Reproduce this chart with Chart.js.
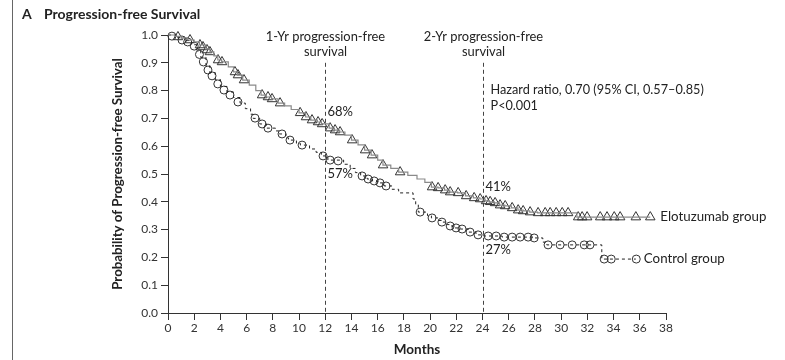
<!DOCTYPE html>
<html>
<head>
<meta charset="utf-8">
<script src="https://cdn.jsdelivr.net/npm/chart.js@4"></script>
<style>
  html, body { margin: 0; padding: 0; background: #fff; }
  #wrap { width: 785px; height: 360px; position: relative; }
</style>
</head>
<body>
<div id="wrap"><canvas id="pfs-chart" width="785" height="360"></canvas></div>
<script>
// Kaplan-Meier steps (month, probability)
const eloSteps = [
  [0, 1.0], [0.5, 0.995], [1.0, 0.99], [1.5, 0.982], [2.0, 0.975], [2.4, 0.964], [2.9, 0.95],
  [3.2, 0.939], [3.5, 0.925], [3.8, 0.91], [4.1, 0.903], [4.6, 0.885], [5.0, 0.867], [5.3, 0.856],
  [5.7, 0.838], [6.2, 0.82], [6.7, 0.80], [7.1, 0.784], [7.5, 0.777], [7.9, 0.77], [8.4, 0.755],
  [8.9, 0.745], [9.4, 0.732], [10.0, 0.72], [10.5, 0.705], [10.9, 0.694], [11.4, 0.687],
  [11.7, 0.68], [12.3, 0.665], [12.7, 0.658], [13.1, 0.651], [13.5, 0.64], [14.0, 0.622],
  [14.5, 0.605], [15.0, 0.586], [15.5, 0.568], [16.0, 0.55], [16.4, 0.532], [17.0, 0.52],
  [17.6, 0.507], [18.3, 0.495], [19.0, 0.482], [19.6, 0.47], [20.1, 0.453], [20.6, 0.45],
  [21.1, 0.442], [21.5, 0.435], [22.1, 0.432], [22.7, 0.421], [23.3, 0.414], [23.8, 0.41],
  [24.2, 0.403], [24.5, 0.40], [24.9, 0.396], [25.3, 0.388], [25.7, 0.385], [26.2, 0.378],
  [26.7, 0.37], [27.1, 0.367], [27.6, 0.363], [28.2, 0.36], [31.2, 0.345], [36.8, 0.345]
];
const ctrlSteps = [
  [0, 1.0], [0.7, 0.99], [1.3, 0.98], [1.8, 0.965], [2.2, 0.945], [2.5, 0.92], [2.9, 0.89],
  [3.2, 0.865], [3.6, 0.84], [4.0, 0.815], [4.5, 0.795], [5.0, 0.775], [5.5, 0.755], [5.9, 0.735],
  [6.3, 0.715], [6.5, 0.70], [7.0, 0.68], [7.5, 0.665], [8.2, 0.655], [8.5, 0.644], [9.0, 0.63],
  [9.2, 0.622], [9.8, 0.61], [10.1, 0.604], [10.8, 0.59], [11.3, 0.578], [11.7, 0.565],
  [12.2, 0.55], [13.4, 0.535], [13.9, 0.52], [14.3, 0.505], [14.7, 0.493], [15.2, 0.482],
  [15.6, 0.475], [16.0, 0.468], [16.5, 0.457], [17.1, 0.445], [17.6, 0.432], [18.7, 0.41],
  [18.9, 0.39], [19.1, 0.363], [19.8, 0.35], [20.1, 0.342], [20.6, 0.333], [20.9, 0.327],
  [21.3, 0.318], [21.5, 0.313], [21.9, 0.306], [22.3, 0.302], [22.9, 0.291], [23.5, 0.281],
  [24.1, 0.277], [25.5, 0.273], [27.8, 0.27], [28.6, 0.255], [28.9, 0.245], [33.1, 0.194],
  [35.7, 0.194]
];

// censored patients (tick marks on the curves)
const eloCensor = [
  [0.76, 0.993], [1.68, 0.982], [2.44, 0.964], [2.67, 0.957], [2.98, 0.946], [3.2, 0.939],
  [3.82, 0.91], [4.12, 0.903], [5.11, 0.867], [5.34, 0.856], [5.8, 0.838], [7.18, 0.784],
  [7.63, 0.777], [7.94, 0.77], [8.55, 0.755], [10.08, 0.72], [10.53, 0.705], [10.99, 0.694],
  [11.45, 0.687], [11.76, 0.68], [12.37, 0.665], [12.75, 0.658], [13.13, 0.651], [14.05, 0.622],
  [15.04, 0.586], [15.57, 0.568], [16.41, 0.532], [17.71, 0.507], [20.15, 0.453], [20.61, 0.45],
  [21.15, 0.442], [21.53, 0.435], [22.14, 0.432], [22.75, 0.421], [23.36, 0.414], [23.82, 0.41],
  [24.27, 0.403], [24.58, 0.40], [24.96, 0.396], [25.34, 0.388], [25.73, 0.385], [26.26, 0.378],
  [26.72, 0.37], [27.1, 0.367], [27.63, 0.363], [28.24, 0.36], [28.78, 0.36], [29.16, 0.36],
  [29.62, 0.36], [30.08, 0.36], [30.53, 0.36], [31.3, 0.345], [31.6, 0.345], [31.98, 0.345],
  [32.98, 0.345], [33.5, 0.345], [34.05, 0.345], [34.5, 0.345], [35.7, 0.345], [36.8, 0.345]
];
const ctrlCensor = [
  [0.3, 0.996], [1.07, 0.982], [1.5, 0.975], [2.0, 0.96], [2.4, 0.93], [2.7, 0.903],
  [3.05, 0.874], [3.36, 0.853], [3.8, 0.824], [4.27, 0.802], [4.73, 0.784], [5.34, 0.759],
  [6.64, 0.701], [7.18, 0.68], [7.63, 0.665], [8.7, 0.644], [9.31, 0.622], [10.23, 0.604],
  [11.83, 0.565], [12.37, 0.55], [12.98, 0.547], [14.81, 0.493], [15.27, 0.482], [15.73, 0.475],
  [16.18, 0.468], [16.64, 0.457], [19.24, 0.363], [20.15, 0.342], [20.9, 0.327], [21.53, 0.313],
  [21.98, 0.306], [22.44, 0.302], [23.05, 0.291], [23.66, 0.281], [24.43, 0.277], [25.04, 0.277],
  [25.65, 0.273], [26.26, 0.273], [26.87, 0.273], [27.48, 0.273], [27.94, 0.27], [29.0, 0.245],
  [29.92, 0.245], [30.84, 0.245], [31.76, 0.245], [32.2, 0.245], [33.28, 0.194], [33.82, 0.194],
  [35.73, 0.194]
];

const xTicks = [0, 2, 4, 6, 8, 10, 12, 14, 16, 18, 20, 22, 24, 26, 28, 30, 32, 34, 36, 38];
const landmarkMonths = [12, 24];
const landmarkLabels = [['1-Yr progression-free', 'survival'], ['2-Yr progression-free', 'survival']];
const landmarkElo = ['68%', '41%'];
const landmarkCtrl = ['57%', '27%'];
const hazardText = ['Hazard ratio, 0.70 (95% CI, 0.57\u20130.85)', 'P<0.001'];
const groupNames = ['Elotuzumab group', 'Control group'];

const FONT = 'Lato, "Open Sans", sans-serif';
const INK = '#222';

const toXY = arr => arr.map(([x, y]) => ({ x, y }));

// text and landmark lines drawn on top of the plot
const annotations = {
  id: 'annotations',
  afterDatasetsDraw(chart) {
    const { ctx, scales: { x, y } } = chart;
    ctx.save();

    // panel rule on the far left
    ctx.strokeStyle = '#666';
    ctx.lineWidth = 1;
    ctx.beginPath();
    ctx.moveTo(12.5, 0);
    ctx.lineTo(12.5, 360);
    ctx.stroke();

    ctx.fillStyle = INK;
    ctx.textBaseline = 'middle';
    ctx.font = `bold 14px ${FONT}`;
    ctx.textAlign = 'left';
    ctx.fillText('A', 22, 14);
    ctx.fillText('Progression-free Survival', 44, 14);

    landmarkMonths.forEach((m, i) => {
      const px = Math.round(x.getPixelForValue(m)) + 0.5;
      ctx.strokeStyle = '#444';
      ctx.setLineDash([4, 3]);
      ctx.beginPath();
      ctx.moveTo(px, y.getPixelForValue(0.9));
      ctx.lineTo(px, y.getPixelForValue(0));
      ctx.stroke();
      ctx.setLineDash([]);

      ctx.font = `12.9px ${FONT}`;
      ctx.textAlign = 'center';
      ctx.fillText(landmarkLabels[i][0], px, 37);
      ctx.fillText(landmarkLabels[i][1], px, 52);

      ctx.textAlign = 'left';
      ctx.font = `13px ${FONT}`;
      const eloVal = parseFloat(landmarkElo[i]) / 100;
      const ctrlVal = parseFloat(landmarkCtrl[i]) / 100;
      ctx.fillText(landmarkElo[i], px + 2, y.getPixelForValue(eloVal) - 12);
      ctx.fillText(landmarkCtrl[i], px + 2, y.getPixelForValue(ctrlVal) + (i === 0 ? 19 : 12));
    });

    const hx = x.getPixelForValue(24) + 8;
    ctx.textAlign = 'left';
    ctx.font = `12.7px ${FONT}`;
    ctx.fillText(hazardText[0], hx, 90);
    ctx.fillText(hazardText[1], hx, 106);

    ctx.font = `13.3px ${FONT}`;
    const eloEnd = eloSteps[eloSteps.length - 1];
    const ctrlEnd = ctrlSteps[ctrlSteps.length - 1];
    ctx.fillText(groupNames[0], x.getPixelForValue(eloEnd[0]) + 10, y.getPixelForValue(eloEnd[1]));
    ctx.fillText(groupNames[1], x.getPixelForValue(ctrlEnd[0]) + 8, y.getPixelForValue(ctrlEnd[1]));

    ctx.restore();
  }
};

const ctx = document.getElementById('pfs-chart').getContext('2d');
new Chart(ctx, {
  type: 'line',
  data: {
    datasets: [
      {
        label: 'Elotuzumab',
        data: toXY(eloSteps),
        stepped: true,
        borderColor: '#8a8a8a',
        borderWidth: 1.2,
        pointRadius: 0,
        fill: false,
        clip: false
      },
      {
        label: 'Control',
        data: toXY(ctrlSteps),
        stepped: true,
        borderColor: '#222',
        borderWidth: 1,
        borderDash: [3, 3],
        pointRadius: 0,
        fill: false,
        clip: false
      },
      {
        type: 'scatter',
        label: 'Elotuzumab censored',
        data: toXY(eloCensor),
        showLine: false,
        pointStyle: 'triangle',
        pointRadius: 5.5,
        pointBorderColor: '#333',
        pointBackgroundColor: 'rgba(255,255,255,0)',
        pointBorderWidth: 1,
        clip: false
      },
      {
        type: 'scatter',
        label: 'Control censored',
        data: toXY(ctrlCensor),
        showLine: false,
        pointStyle: 'circle',
        pointRadius: 4,
        pointBorderColor: '#333',
        pointBackgroundColor: 'rgba(255,255,255,0)',
        pointBorderWidth: 1,
        clip: false
      }
    ]
  },
  options: {
    responsive: false,
    animation: false,
    layout: { padding: { left: 100, right: 119, top: 35, bottom: 0 } },
    plugins: { legend: { display: false }, tooltip: { enabled: false } },
    scales: {
      x: {
        type: 'linear',
        min: 0,
        max: 38,
        afterFit: s => { s.height = 47; },
        afterBuildTicks: s => { s.ticks = xTicks.map(v => ({ value: v })); },
        ticks: { color: '#333', font: { family: FONT, size: 12 }, padding: 1, maxRotation: 0, autoSkip: false },
        grid: { drawOnChartArea: false, tickLength: 7, color: '#333' },
        border: { color: '#333', width: 1 },
        title: { display: true, text: 'Months', color: INK, font: { family: FONT, size: 13.5, weight: 'bold' }, padding: { top: 0, bottom: 2 } }
      },
      y: {
        type: 'linear',
        min: 0,
        max: 1,
        afterFit: s => { s.width = 68; },
        ticks: { stepSize: 0.1, color: '#333', font: { family: FONT, size: 12 }, padding: 3, callback: v => v.toFixed(1) },
        grid: { drawOnChartArea: false, tickLength: 7, color: '#333' },
        border: { color: '#333', width: 1 },
        title: { display: true, text: 'Probability of Progression-free Survival', color: INK, font: { family: FONT, size: 13.3, weight: 'bold' }, padding: { top: 10, bottom: 0 } }
      }
    }
  },
  plugins: [annotations]
});
</script>
</body>
</html>
